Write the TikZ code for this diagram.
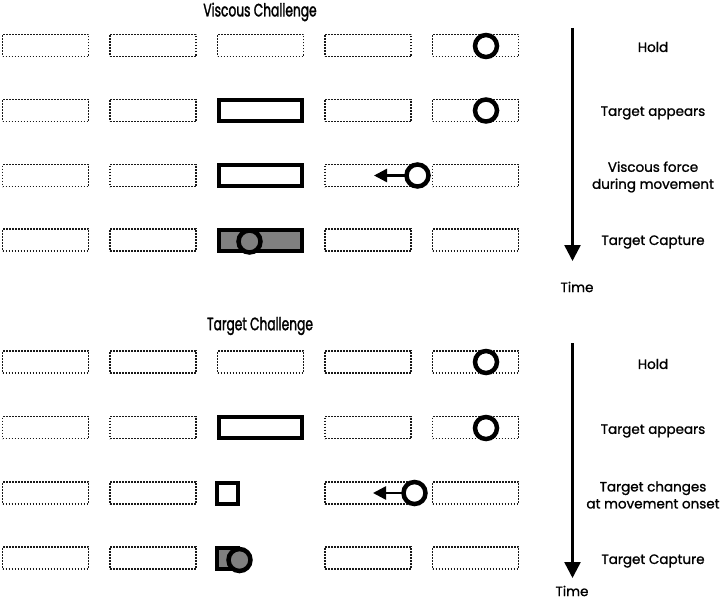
\documentclass[tikz,border=0pt]{standalone}
\usepackage{fontspec}
\setmainfont[FakeBold=1.5]{Poppins}
\newfontfamily\lblfont[FakeBold=1.2]{Poppins}
\newfontfamily\titlefont[FakeStretch=0.68,FakeBold=1.6]{Poppins}
\usetikzlibrary{arrows.meta}
\begin{document}
\begin{tikzpicture}[x=1pt,y=-1pt,
  slot/.style={draw=black!90, line width=1.7pt, dash pattern=on 1.6pt off 1.4pt, minimum width=86pt, minimum height=22pt, inner sep=0pt, outer sep=0pt},
  targ/.style={draw=black, line width=4pt, minimum width=83pt, minimum height=21pt, inner sep=0pt, outer sep=0pt},
  smalltarg/.style={draw=black, line width=4pt, minimum width=21pt, minimum height=21pt, inner sep=0pt, outer sep=0pt},
  cursor/.style={circle, draw=black, fill=white, line width=4.5pt, minimum size=22pt, inner sep=0pt, outer sep=0pt},
  hit/.style={fill=black!50},
  push/.style={line width=2.5pt, -{Triangle[length=13pt,width=13pt]}},
  timeline/.style={line width=2.5pt, -{Triangle[length=16pt,width=16pt]}},
  lbl/.style={font=\lblfont\fontsize{13.5}{17}\selectfont, align=center, inner sep=0pt},
  ttl/.style={font=\titlefont\fontsize{18}{21}\selectfont, inner sep=0pt}
]
\useasboundingbox (0,0) rectangle (720,602);

% ---------- Viscous Challenge ----------
\node[ttl] (t1) at (260,12) {Viscous Challenge};
% row 1
\foreach \i [count=\k] in {45.5,153,260.5,368,475.5} { \node[slot] (a1\k) at (\i,45.5) {}; }
\node[cursor] (ca1) at (486,46) {};
% row 2
\foreach \i [count=\k] in {45.5,153,368,475.5} { \node[slot] (a2\k) at (\i,110.5) {}; }
\node[targ] (ta2) at (260.5,110.5) {};
\node[cursor] (ca2) at (486,110.5) {};
% row 3
\foreach \i [count=\k] in {45.5,153,368,475.5} { \node[slot] (a3\k) at (\i,175.5) {}; }
\node[targ] (ta3) at (260.5,175.5) {};
\node[cursor] (ca3) at (417.5,175.5) {};
\coordinate (pa3) at (374,175.5);
\draw[push] (ca3.west) -- (pa3);
% row 4
\foreach \i [count=\k] in {45.5,153,368,475.5} { \node[slot] (a4\k) at (\i,240) {}; }
\node[targ, hit] (ta4) at (260.5,240) {};
\node[cursor, hit] (ca4) at (249.5,241.5) {};

% time arrow
\coordinate (s1) at (572.5,28);
\coordinate (e1) at (572.5,261);
\draw[timeline] (s1) -- (e1);
\node[lbl] (time1) at (577,287) {Time};
\node[lbl] (h1) at (653,47) {Hold};
\node[lbl] (ap1) at (653,113) {Target appears};
\node[lbl] (vf1) at (653,177) {Viscous force\\during movement};
\node[lbl] (tc1) at (653,242) {Target Capture};

% ---------- Target Challenge ----------
\node[ttl] (t2) at (260,326) {Target Challenge};
% row 1
\foreach \i [count=\k] in {45.5,153,260.5,368,475.5} { \node[slot] (b1\k) at (\i,362) {}; }
\node[cursor] (cb1) at (486,362) {};
% row 2
\foreach \i [count=\k] in {45.5,153,368,475.5} { \node[slot] (b2\k) at (\i,427.5) {}; }
\node[targ] (tb2) at (260.5,427.5) {};
\node[cursor] (cb2) at (486,428) {};
% row 3
\foreach \i [count=\k] in {45.5,153,368,475.5} { \node[slot] (b3\k) at (\i,493) {}; }
\node[smalltarg] (tb3) at (227.5,493) {};
\node[cursor] (cb3) at (414.5,493) {};
\coordinate (pb3) at (373,493);
\draw[push] (cb3.west) -- (pb3);
% row 4
\foreach \i [count=\k] in {45.5,153,368,475.5} { \node[slot] (b4\k) at (\i,558) {}; }
\node[smalltarg, hit] (tb4) at (227.5,558) {};
\node[cursor, hit] (cb4) at (239.5,560) {};

% time arrow
\coordinate (s2) at (572.5,343);
\coordinate (e2) at (572.5,578);
\draw[timeline] (s2) -- (e2);
\node[lbl] (time2) at (572,591) {Time};
\node[lbl] (h2) at (653,364) {Hold};
\node[lbl] (ap2) at (653,431) {Target appears};
\node[lbl] (tg2) at (653,495) {Target changes\\at movement onset};
\node[lbl] (tc2) at (653,561) {Target Capture};
\end{tikzpicture}
\end{document}
